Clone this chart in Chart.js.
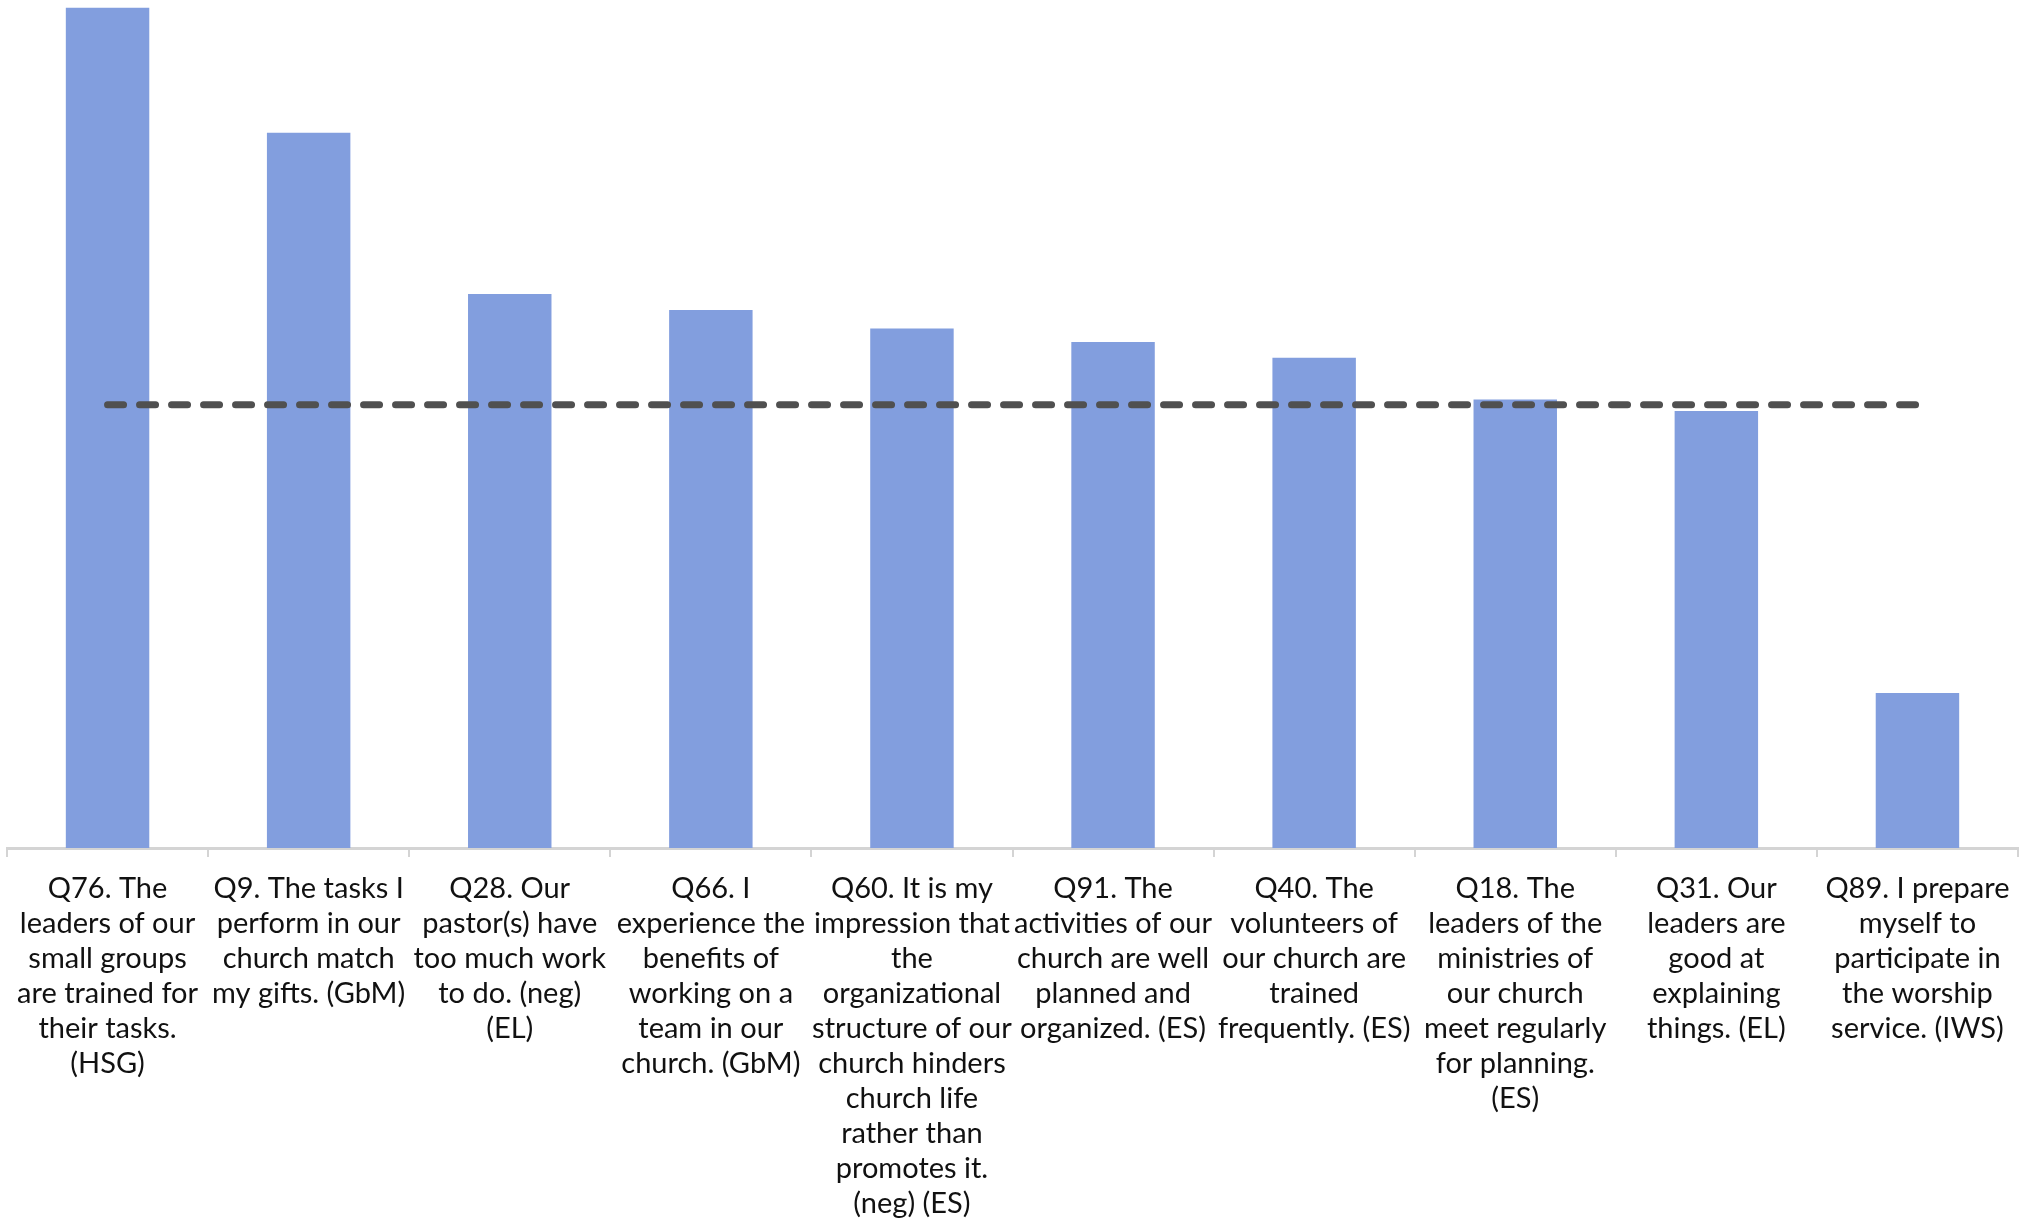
<!DOCTYPE html>
<html>
<head>
<meta charset="utf-8">
<title>Survey items compared with the average</title>
<script src="https://cdn.jsdelivr.net/npm/chart.js@4/dist/chart.umd.min.js"></script>
<style>
  html, body { margin: 0; padding: 0; background: #ffffff; }
  #wrap { width: 2031px; height: 1220px; }
</style>
</head>
<body>
<div id="wrap"><canvas id="chart" width="2031" height="1220"></canvas></div>
<script>
// Survey questions, each label split into its display lines
const categories = [
  ["Q76. The", "leaders of our", "small groups", "are trained for", "their tasks.", "(HSG)"],
  ["Q9. The tasks I", "perform in our", "church match", "my gifts. (GbM)"],
  ["Q28. Our", "pastor(s) have", "too much work", "to do. (neg)", "(EL)"],
  ["Q66. I", "experience the", "benefits of", "working on a", "team in our", "church. (GbM)"],
  ["Q60. It is my", "impression that", "the", "organizational", "structure of our", "church hinders", "church life", "rather than", "promotes it.", "(neg) (ES)"],
  ["Q91. The", "activities of our", "church are well", "planned and", "organized. (ES)"],
  ["Q40. The", "volunteers of", "our church are", "trained", "frequently. (ES)"],
  ["Q18. The", "leaders of the", "ministries of", "our church", "meet regularly", "for planning.", "(ES)"],
  ["Q31. Our", "leaders are", "good at", "explaining", "things. (EL)"],
  ["Q89. I prepare", "myself to", "participate in", "the worship", "service. (IWS)"]
];

// Item scores
const scores = [94.8, 80.7, 62.5, 60.7, 58.6, 57.1, 55.3, 50.6, 49.3, 17.5];

// Reference level drawn as a dashed line across all items
const averageLine = [50, 50, 50, 50, 50, 50, 50, 50, 50, 50];

const yMin = 0;
const yMax = 95;

new Chart(document.getElementById('chart'), {
  data: {
    labels: categories,
    datasets: [
      {
        type: 'line',
        data: averageLine,
        order: 0,
        borderColor: '#505050',
        borderWidth: 7,
        borderDash: [16, 16],
        borderCapStyle: 'round',
        pointRadius: 0,
        fill: false,
        tension: 0
      },
      {
        type: 'bar',
        data: scores,
        order: 1,
        backgroundColor: 'rgb(130, 158, 222)',
        borderWidth: 0,
        categoryPercentage: 1.0,
        barPercentage: 0.415
      }
    ]
  },
  options: {
    responsive: false,
    devicePixelRatio: 1,
    animation: false,
    layout: { padding: { left: 7, right: 13, top: 6, bottom: -15 } },
    plugins: {
      legend: { display: false },
      tooltip: { enabled: false }
    },
    scales: {
      x: {
        grid: {
          offset: true,
          drawOnChartArea: false,
          drawTicks: true,
          tickLength: 9,
          color: '#d4d4d4',
          lineWidth: 2
        },
        border: { display: true, color: '#d4d4d4', width: 3 },
        ticks: {
          autoSkip: false,
          maxRotation: 0,
          minRotation: 0,
          padding: 14,
          color: '#111111',
          font: { family: 'Lato', size: 29, lineHeight: '35px' }
        }
      },
      y: {
        display: false,
        min: yMin,
        max: yMax
      }
    }
  }
});
</script>
</body>
</html>
